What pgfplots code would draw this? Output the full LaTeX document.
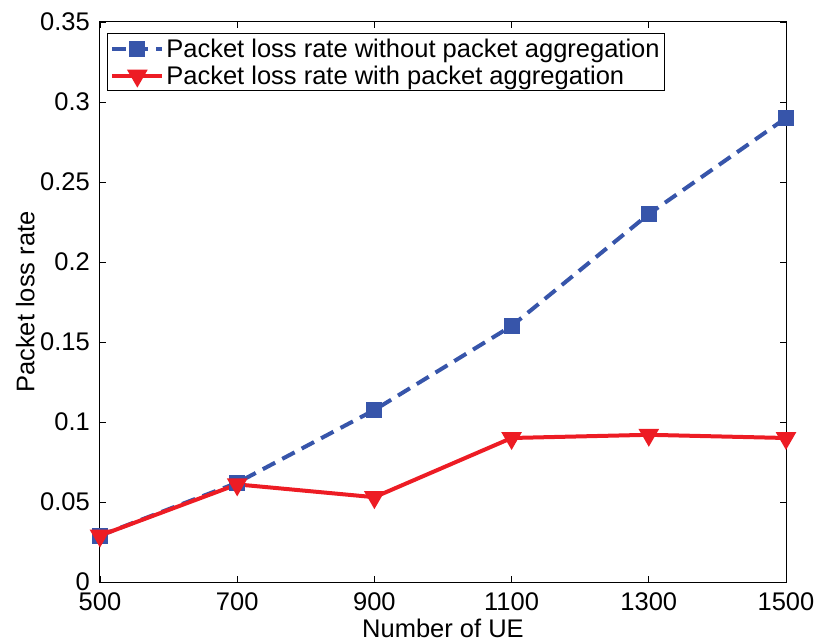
\documentclass[border=0pt]{standalone}
\usepackage{pgfplots}
\pgfplotsset{compat=1.18}
\usepackage{fontspec}
\setmainfont{Liberation Sans}
\definecolor{mblue}{RGB}{55,85,170}
\definecolor{mred}{RGB}{237,28,36}
\begin{document}
\begin{tikzpicture}
\begin{axis}[
  scale only axis,
  width=686bp, height=560bp,
  xmin=500, xmax=1500, ymin=0, ymax=0.35,
  xtick={500,700,900,1100,1300,1500},
  ytick={0,0.05,0.1,0.15,0.2,0.25,0.3,0.35},
  yticklabels={0,0.05,0.1,0.15,0.2,0.25,0.3,0.35},
  xticklabels={500,700,900,1100,1300,1500},
  tick align=inside,
  major tick length=6bp,
  tick style={black, line width=0.8bp},
  axis line style={black, line width=1bp},
  /pgf/number format/assume math mode=true,
  ticklabel style={font=\fontsize{25.5bp}{28bp}\selectfont},
  xticklabel style={inner sep=1bp, yshift=-9bp},
  yticklabel style={inner sep=2bp, xshift=-8bp},
  label style={font=\fontsize{25.5bp}{28bp}\selectfont},
  xlabel={Number of UE},
  ylabel={Packet loss rate},
  xlabel style={inner sep=0bp, yshift=-8bp},
  ylabel style={yshift=0bp},
  legend style={at={(rel axis cs:0.01,0.98)}, anchor=north west,
    font=\fontsize{25.5bp}{28bp}\selectfont, draw=black, line width=1bp,
    inner sep=3bp, row sep=3bp, legend cell align=left},
  legend image code/.code={
    \draw[mark repeat=2,mark phase=2] plot coordinates {(0bp,0bp)(25bp,0bp)(50bp,0bp)};
  },
]
\coordinate (bl) at (rel axis cs:0,0);
\addplot[mblue, line width=4bp, dash pattern=on 14bp off 8bp, mark=square*, mark size=6bp,
  mark options={solid, fill=mblue}]
  coordinates {(500,0.029) (700,0.062) (900,0.1075) (1100,0.16) (1300,0.23) (1500,0.29)};
\addlegendentry{Packet loss rate without packet aggregation}
\addplot[mred, line width=4bp, mark=triangle*, mark size=8bp,
  mark options={solid, fill=mred, rotate=180}]
  coordinates {(500,0.029) (700,0.061) (900,0.053) (1100,0.09) (1300,0.092) (1500,0.09)};
\addlegendentry{Packet loss rate with packet aggregation}
\end{axis}
\pgfresetboundingbox
\path (bl) ++(-100bp,-61bp) rectangle ++(816bp,643bp);
\end{tikzpicture}
\end{document}
